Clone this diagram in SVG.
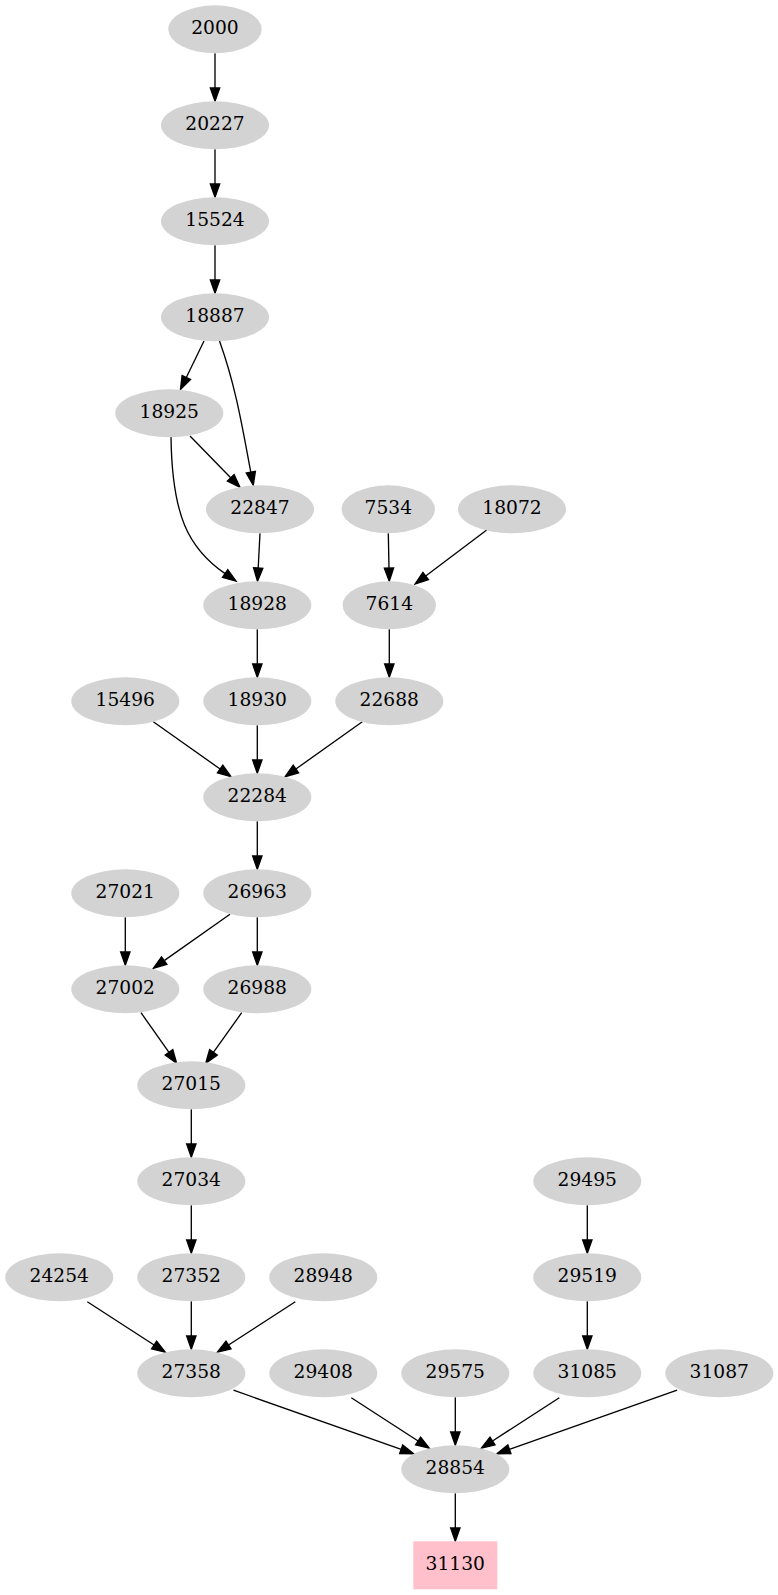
<svg xmlns="http://www.w3.org/2000/svg" width="778" height="1595" viewBox="0 0 778 1595">
<style>
.n ellipse{fill:#d3d3d3;stroke:none}
.n rect{fill:#ffc0cb;stroke:none}
.n text{font-family:"DejaVu Serif","Liberation Serif",serif;font-size:18.67px;text-anchor:middle;fill:#000}
#edges path{fill:none;stroke:#000;stroke-width:1.33;marker-end:url(#a)}
</style>
<defs>
<marker id="a" markerWidth="16" markerHeight="12" refX="0" refY="4.67" orient="auto" markerUnits="userSpaceOnUse" overflow="visible">
<path d="M0,0 L13.33,4.67 L0,9.33 Z" fill="#000" stroke="#000" stroke-width="1.33"/>
</marker>
</defs>
<rect width="778" height="1595" fill="#fff"/>
<g id="edges">
<path d="M215,53.3 L215,88"/>
<path d="M215,149.3 L215,184"/>
<path d="M215,245.3 L215,280"/>
<path d="M204,341 L186.3,377.5"/>
<path d="M219.5,341 C235.7,386 242.3,427.2 250.8,472.2"/>
<path d="M190,436 L230.7,477.8"/>
<path d="M171,436.7 C172,515 188,548 225.1,573.6"/>
<path d="M260,533.3 L258.2,568"/>
<path d="M388.3,533.3 L389,568"/>
<path d="M486.7,530 L425.7,576"/>
<path d="M257.3,629.3 L257.3,664"/>
<path d="M389.3,629.3 L389.3,664"/>
<path d="M153.3,721.7 L220.1,769"/>
<path d="M257.3,725.3 L257.3,760"/>
<path d="M362.3,721.7 L295.9,769"/>
<path d="M257.3,821.3 L257.3,856"/>
<path d="M125.3,917.3 L125.3,952"/>
<path d="M230,914.3 L164.2,960.6"/>
<path d="M257.3,917.3 L257.3,952"/>
<path d="M141,1012.7 L169,1052.4"/>
<path d="M241.7,1012.7 L213.4,1052.4"/>
<path d="M191.3,1109.3 L191.3,1144"/>
<path d="M191.3,1205.3 L191.3,1240"/>
<path d="M587.3,1205.3 L587.3,1240"/>
<path d="M87.3,1301.7 L154.1,1345"/>
<path d="M191.3,1301.3 L191.3,1336"/>
<path d="M295.3,1301.7 L228.5,1345"/>
<path d="M587.3,1301.3 L587.3,1336"/>
<path d="M233.5,1390.2 L401.2,1449.3"/>
<path d="M351.3,1397.7 L418.1,1441"/>
<path d="M455.3,1397.3 L455.3,1432"/>
<path d="M559.3,1397.7 L492.5,1441"/>
<path d="M677.1,1390.2 L509.4,1449.3"/>
<path d="M455.3,1493.3 L455.3,1528"/>
</g>
<g id="n2000" class="n"><ellipse cx="215" cy="29.3" rx="46.7" ry="24"/><text x="215" y="34.3">2000</text></g>
<g id="n20227" class="n"><ellipse cx="215" cy="125.3" rx="54" ry="24"/><text x="215" y="130.3">20227</text></g>
<g id="n15524" class="n"><ellipse cx="215" cy="221.3" rx="54" ry="24"/><text x="215" y="226.3">15524</text></g>
<g id="n18887" class="n"><ellipse cx="215" cy="317.3" rx="54" ry="24"/><text x="215" y="322.3">18887</text></g>
<g id="n18925" class="n"><ellipse cx="169.3" cy="413.3" rx="54" ry="24"/><text x="169.3" y="418.3">18925</text></g>
<g id="n22847" class="n"><ellipse cx="260" cy="509.3" rx="54" ry="24"/><text x="260" y="514.3">22847</text></g>
<g id="n7534" class="n"><ellipse cx="388.3" cy="509.3" rx="46.7" ry="24"/><text x="388.3" y="514.3">7534</text></g>
<g id="n18072" class="n"><ellipse cx="512" cy="509.3" rx="54" ry="24"/><text x="512" y="514.3">18072</text></g>
<g id="n18928" class="n"><ellipse cx="257.3" cy="605.3" rx="54" ry="24"/><text x="257.3" y="610.3">18928</text></g>
<g id="n7614" class="n"><ellipse cx="389.3" cy="605.3" rx="46.7" ry="24"/><text x="389.3" y="610.3">7614</text></g>
<g id="n15496" class="n"><ellipse cx="125.3" cy="701.3" rx="54" ry="24"/><text x="125.3" y="706.3">15496</text></g>
<g id="n18930" class="n"><ellipse cx="257.3" cy="701.3" rx="54" ry="24"/><text x="257.3" y="706.3">18930</text></g>
<g id="n22688" class="n"><ellipse cx="389.3" cy="701.3" rx="54" ry="24"/><text x="389.3" y="706.3">22688</text></g>
<g id="n22284" class="n"><ellipse cx="257.3" cy="797.3" rx="54" ry="24"/><text x="257.3" y="802.3">22284</text></g>
<g id="n27021" class="n"><ellipse cx="125.3" cy="893.3" rx="54" ry="24"/><text x="125.3" y="898.3">27021</text></g>
<g id="n26963" class="n"><ellipse cx="257.3" cy="893.3" rx="54" ry="24"/><text x="257.3" y="898.3">26963</text></g>
<g id="n27002" class="n"><ellipse cx="125.3" cy="989.3" rx="54" ry="24"/><text x="125.3" y="994.3">27002</text></g>
<g id="n26988" class="n"><ellipse cx="257.3" cy="989.3" rx="54" ry="24"/><text x="257.3" y="994.3">26988</text></g>
<g id="n27015" class="n"><ellipse cx="191.3" cy="1085.3" rx="54" ry="24"/><text x="191.3" y="1090.3">27015</text></g>
<g id="n27034" class="n"><ellipse cx="191.3" cy="1181.3" rx="54" ry="24"/><text x="191.3" y="1186.3">27034</text></g>
<g id="n29495" class="n"><ellipse cx="587.3" cy="1181.3" rx="54" ry="24"/><text x="587.3" y="1186.3">29495</text></g>
<g id="n24254" class="n"><ellipse cx="59.3" cy="1277.3" rx="54" ry="24"/><text x="59.3" y="1282.3">24254</text></g>
<g id="n27352" class="n"><ellipse cx="191.3" cy="1277.3" rx="54" ry="24"/><text x="191.3" y="1282.3">27352</text></g>
<g id="n28948" class="n"><ellipse cx="323.3" cy="1277.3" rx="54" ry="24"/><text x="323.3" y="1282.3">28948</text></g>
<g id="n29519" class="n"><ellipse cx="587.3" cy="1277.3" rx="54" ry="24"/><text x="587.3" y="1282.3">29519</text></g>
<g id="n27358" class="n"><ellipse cx="191.3" cy="1373.3" rx="54" ry="24"/><text x="191.3" y="1378.3">27358</text></g>
<g id="n29408" class="n"><ellipse cx="323.3" cy="1373.3" rx="54" ry="24"/><text x="323.3" y="1378.3">29408</text></g>
<g id="n29575" class="n"><ellipse cx="455.3" cy="1373.3" rx="54" ry="24"/><text x="455.3" y="1378.3">29575</text></g>
<g id="n31085" class="n"><ellipse cx="587.3" cy="1373.3" rx="54" ry="24"/><text x="587.3" y="1378.3">31085</text></g>
<g id="n31087" class="n"><ellipse cx="719.3" cy="1373.3" rx="54" ry="24"/><text x="719.3" y="1378.3">31087</text></g>
<g id="n28854" class="n"><ellipse cx="455.3" cy="1469.3" rx="54" ry="24"/><text x="455.3" y="1474.3">28854</text></g>
<g id="n31130" class="n"><rect x="413.3" y="1541.3" width="84" height="48"/><text x="455.3" y="1570.3">31130</text></g>
</svg>
